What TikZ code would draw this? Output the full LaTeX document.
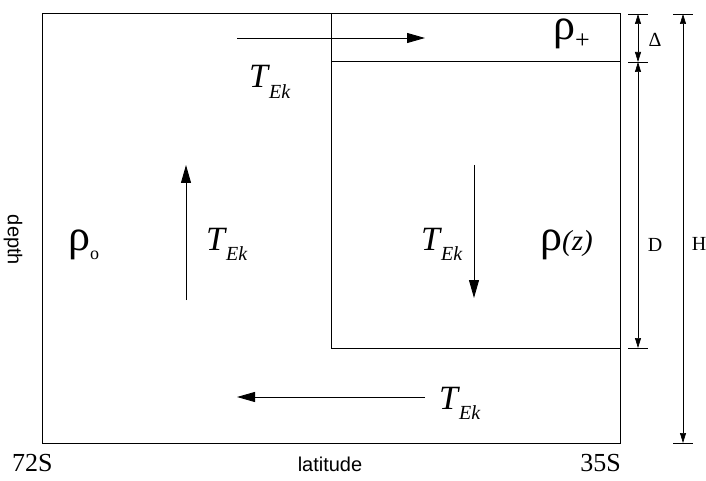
\documentclass[tikz,border=0pt]{standalone}
\usepackage{fontspec}
\setmainfont{Liberation Serif}
\setsansfont{Liberation Sans}
\usetikzlibrary{arrows.meta}
\newcommand{\tek}{\textit{T}\kern-1pt\raisebox{-0.3em}{\fontsize{20}{20}\selectfont\textit{Ek}}}

\begin{document}
\begin{tikzpicture}[
    x=1pt, y=-1pt,
    font=\fontsize{20}{20}\selectfont,
    caja/.style={line width=1pt},
    flujo/.style={-{Triangle[length=18pt,width=10pt]}, line width=0.9pt},
    cota/.style={{Triangle[length=10pt,width=6pt]}-{Triangle[length=10pt,width=6pt]}, line width=0.7pt},
    marca/.style={line width=0.7pt},
    tek/.style={font=\fontsize{34}{34}\selectfont, inner sep=0pt},
    rho/.style={font=\fontsize{44}{44}\selectfont, inner sep=0pt},
    texto/.style={font=\sffamily\fontsize{20}{20}\selectfont, inner sep=0pt},
    grado/.style={font=\fontsize{26}{26}\selectfont, inner sep=0pt}
  ]
    \useasboundingbox (0,0) rectangle (706,481);
    \draw[caja] (42,14) rectangle (620,443);
    \draw[caja] (331,14) -- (331,348) -- (620,348);
    \draw[caja] (331,62) -- (620,62);
    \coordinate (tn0) at (237,38);  \coordinate (tn1) at (425,38);
    \coordinate (up0) at (186,300); \coordinate (up1) at (186,165);
    \coordinate (dn0) at (474,165); \coordinate (dn1) at (474,298);
    \coordinate (ts0) at (425,397); \coordinate (ts1) at (237,397);
    \draw[flujo] (tn0) -- (tn1);
    \draw[flujo] (up0) -- (up1);
    \draw[flujo] (dn0) -- (dn1);
    \draw[flujo] (ts0) -- (ts1);
    \coordinate (d0) at (638,14);  \coordinate (d1) at (638,62);
    \coordinate (d2) at (638,348);
    \coordinate (h0) at (683,14);  \coordinate (h1) at (683,443);
    \draw[cota] (d0) -- (d1);
    \draw[cota] (d1) -- (d2);
    \draw[cota] (h0) -- (h1);
    \foreach \c in {d0,d1,d2,h0,h1}
      \draw[marca] (\c) ++(-10,0) -- ++(20,0);
    \node[tek, anchor=base west] (tekn) at (249,88) {\tek};
    \node[tek, anchor=base west] (tekw) at (206,250) {\tek};
    \node[tek, anchor=base west] (tekc) at (421,250) {\tek};
    \node[tek, anchor=base west] (teks) at (439,409) {\tek};
    \node[rho, anchor=base west] (rhoo) at (68,250)
      {ρ\raisebox{-.22em}{\fontsize{18}{18}\selectfont o}};
    \node[rho, anchor=base west] (rhop) at (553,40)
      {ρ\raisebox{-.2em}{\fontsize{26}{26}\selectfont +}};
    \node[rho, anchor=base west] (rhoz) at (540,250)
      {ρ{\fontsize{29}{29}\selectfont\textit{(z)}}};
    \node (delta) at (655,40) {Δ};
    \node (dd) at (655,245) {D};
    \node (hh) at (699,244) {H};
    \node[texto, rotate=-90] (prof) at (13,240) {depth};
    \node[texto, anchor=base] (lat) at (330,471) {latitude};
    \node[grado, anchor=base west] (s72) at (12,471) {72S};
    \node[grado, anchor=base east] (s35) at (621,471) {35S};
\end{tikzpicture}
\end{document}
